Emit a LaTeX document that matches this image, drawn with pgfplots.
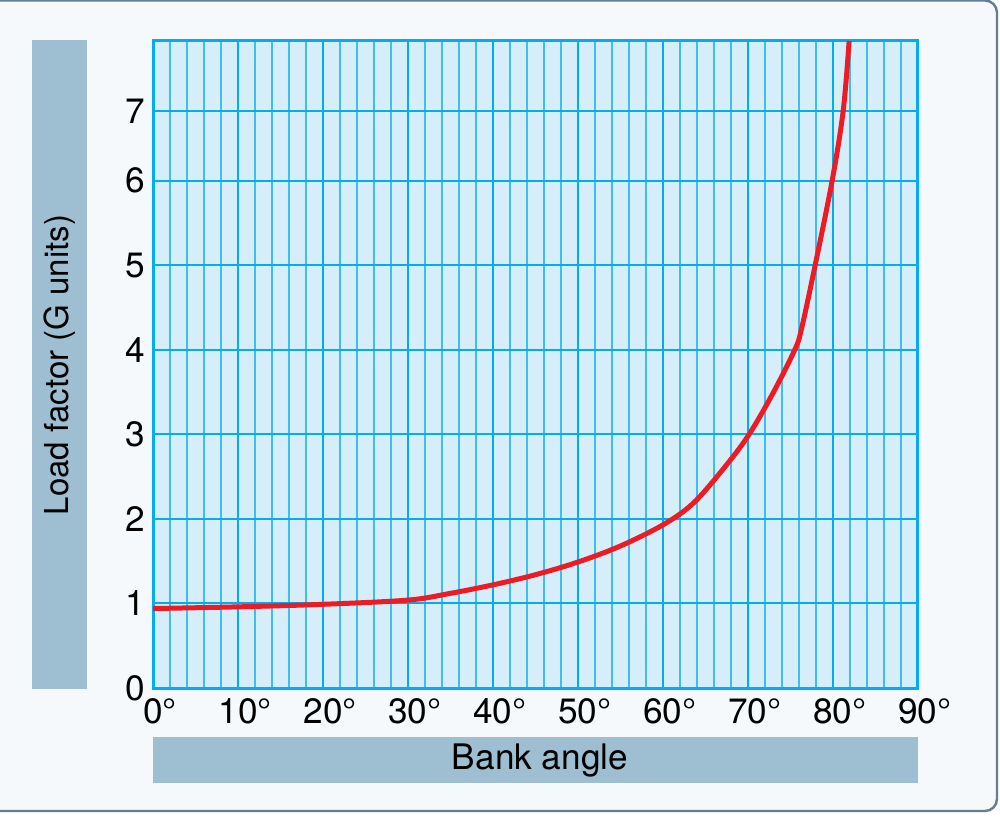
\documentclass[border=0pt]{standalone}
\usepackage{pgfplots}
\pgfplotsset{compat=1.18}
\usepackage{fontspec}
\setmainfont{TeX Gyre Heros}
\definecolor{framebg}{HTML}{F5F9FC}
\definecolor{frameline}{HTML}{5E7F96}
\definecolor{plotbg}{HTML}{D6EEFA}
\definecolor{gridmajor}{HTML}{00AEEF}
\definecolor{gridminor}{HTML}{3DBDF0}
\definecolor{labelbox}{HTML}{9DBFD1}
\definecolor{curvered}{HTML}{ED1C24}

\begin{document}
\begin{tikzpicture}[font=\fontsize{16.5}{20}\selectfont]
% background, frame and label boxes (1 px = 0.5pt)
\begin{scope}[x=0.5pt,y=0.5pt]
\path[use as bounding box] (0,0) rectangle (1000,816);
\fill[white] (0,0) rectangle (1000,816);
\draw[frameline, fill=framebg, line width=1.2pt, rounded corners=6pt] (-30,5) rectangle (997,815.5);
\fill[labelbox] (32,127) rectangle (87,776);
\node[rotate=90] at (59.5,451) {Load factor (G units)};
\fill[labelbox] (153,33) rectangle (918,79);
\node[font=\fontsize{17.6}{21}\selectfont] at (540,56) {Bank angle};
\end{scope}

\begin{axis}[
    at={(76.5pt,64pt)}, anchor=south west,
    width=382.5pt, height=323.5pt, scale only axis,
    xmin=0, xmax=90, ymin=0, ymax=8,
    % the printed grid is tighter above 6 G
    y coord trafo/.code={\pgfmathparse{#1>6 ? 6+(#1-6)*0.8265 : #1}},
    y coord inv trafo/.code={\pgfmathparse{#1>6 ? 6+(#1-6)/0.8265 : #1}},
    xtick={0,10,20,30,40,50,60,70,80,90},
    xticklabels={0\rlap{°},10\rlap{°},20\rlap{°},30\rlap{°},40\rlap{°},50\rlap{°},60\rlap{°},70\rlap{°},80\rlap{°},90\rlap{°}},
    minor x tick num=4,
    ytick={0,1,2,3,4,5,6,7},
    yticklabels={0,1,2,3,4,5,6,7},
    major tick length=0pt, minor tick length=0pt,
    grid=both,
    major grid style={gridmajor, line width=1pt},
    minor grid style={gridminor, line width=0.55pt},
    axis line style={gridmajor, line width=1.5pt},
    axis background/.style={fill=plotbg},
    ticklabel style={font=\fontsize{17.6}{21}\selectfont},
    xticklabel style={inner sep=0pt, yshift=-5pt},
    yticklabel style={inner sep=0pt, xshift=-4pt},
]
\addplot[curvered, line width=2.5pt, smooth, tension=0.55] coordinates {
    (0,0.94) (10,0.96) (20,0.99) (30,1.04) (35,1.12) (40,1.22)
    (45,1.34) (50,1.49) (55,1.68) (60,1.93) (63.5,2.18) (67,2.58)
    (70,2.98) (72.9,3.48) (75.5,4.00) (76.3,4.25) (77.9,5.00)
    (79.9,6.00) (81.2,7.00) (81.9,8.00)
};
\end{axis}
\end{tikzpicture}
\end{document}
